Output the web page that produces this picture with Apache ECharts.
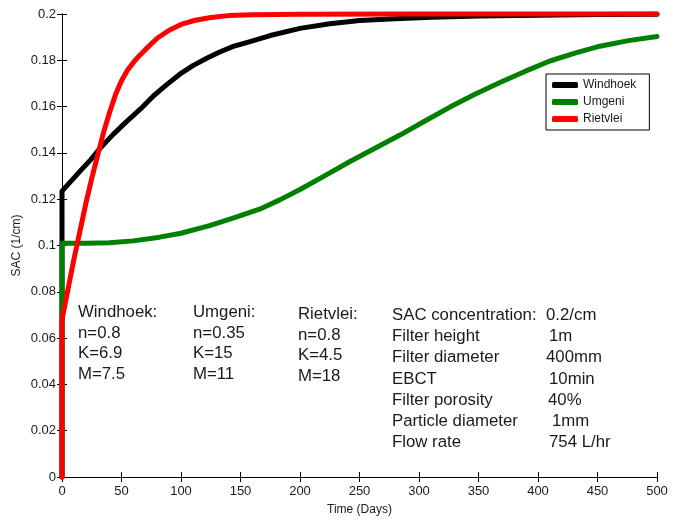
<!DOCTYPE html>
<html>
<head>
<meta charset="utf-8">
<script src="https://cdn.jsdelivr.net/npm/echarts@6/dist/echarts.min.js"></script>
<style>
html,body{margin:0;padding:0;background:#fff;}
#chart{width:678px;height:521px;}
</style>
</head>
<body>
<div id="chart"></div>
<script>
// ---- data ----
const seriesNames = ['Windhoek', 'Umgeni', 'Rietvlei'];
const windhoekX = [0, 0, 8, 15, 24, 32, 43, 54, 66, 77, 88, 99, 110, 122, 133, 144, 158, 175, 200, 225, 250, 280, 310, 350, 400, 450, 500];
const windhoekY = [0, 0.1235, 0.128, 0.132, 0.137, 0.142, 0.148, 0.1534, 0.159, 0.1647, 0.1695, 0.174, 0.1777, 0.181, 0.1837, 0.186, 0.1881, 0.1907, 0.1938, 0.1958, 0.1972, 0.198, 0.1986, 0.1991, 0.1995, 0.1998, 0.1999];
const umgeniX = [0, 0, 20, 40, 60, 82, 100, 124, 145, 166, 183, 200, 221, 242, 263, 284, 305, 326, 347, 368, 389, 410, 431, 452, 476, 500];
const umgeniY = [0, 0.101, 0.101, 0.1012, 0.102, 0.1036, 0.1053, 0.1086, 0.112, 0.1157, 0.1197, 0.1242, 0.1302, 0.1363, 0.142, 0.1477, 0.1538, 0.1598, 0.1653, 0.1704, 0.1752, 0.1797, 0.1831, 0.1861, 0.1885, 0.1903];
const rietvleiX = [0, 0, 5, 10, 15, 20, 25, 30, 35, 40, 45, 50, 55, 60, 65, 70, 80, 90, 100, 112, 125, 140, 160, 200, 300, 500];
const rietvleiY = [0, 0.068, 0.081, 0.094, 0.106, 0.118, 0.129, 0.139, 0.149, 0.1575, 0.1652, 0.1712, 0.1757, 0.1791, 0.182, 0.1846, 0.1895, 0.193, 0.1955, 0.1973, 0.1985, 0.1993, 0.1997, 0.1999, 0.2, 0.2];
const seriesColors = ['#000000', '#008000', '#ff0000'];

const xTickLabels = ['0', '50', '100', '150', '200', '250', '300', '350', '400', '450', '500'];
const yTickLabels = ['0', '0.02', '0.04', '0.06', '0.08', '0.1', '0.12', '0.14', '0.16', '0.18', '0.2'];
const xAxisName = 'Time (Days)';
const yAxisName = 'SAC (1/cm)';

const windhoekNote = ['Windhoek:', 'n=0.8', 'K=6.9', 'M=7.5'];
const umgeniNote = ['Umgeni:', 'n=0.35', 'K=15', 'M=11'];
const rietvleiNote = ['Rietvlei:', 'n=0.8', 'K=4.5', 'M=18'];
const paramNames = ['SAC concentration:', 'Filter height', 'Filter diameter', 'EBCT', 'Filter porosity', 'Particle diameter', 'Flow rate'];
const paramValues = ['0.2/cm', '1m', '400mm', '10min', '40%', '1mm', '754 L/hr'];

// ---- build ----
const FONT = '"Liberation Sans", Arial, sans-serif';
const NOTE_FONT = '16.8px ' + FONT;
function pairs(xs, ys){ return xs.map((x,i)=>[x, ys[i]]); }
const allData = [pairs(windhoekX, windhoekY), pairs(umgeniX, umgeniY), pairs(rietvleiX, rietvleiY)];

const series = seriesNames.map((n,i)=>({
  name: n, type: 'line', data: allData[i], showSymbol: false, symbol: 'none',
  clip: false, lineStyle: {color: seriesColors[i], width: 5, join: 'round', cap: 'round'},
  itemStyle: {color: seriesColors[i]}, animation: false, z: 2 + i
}));

const graphics = [];
function addBlock(lines, xs, ys){
  lines.forEach((t,i)=>graphics.push({type:'text', x:(Array.isArray(xs)?xs[i]:xs), y:ys[i], z:10,
    style:{text:t, font:NOTE_FONT, fill:'#1a1a1a', verticalAlign:'middle', align:'left'}}));
}
addBlock(windhoekNote, 78, [312, 333, 353.5, 374]);
addBlock(umgeniNote, 193, [312, 333, 353.5, 374]);
addBlock(rietvleiNote, 298, [314, 335, 355.5, 376]);
const paramYs = [315, 336, 357.5, 379, 400, 421, 442];
addBlock(paramNames, 392, paramYs);
addBlock(paramValues, [546, 549, 546, 549, 548, 552, 549], paramYs);

const axisLine = {show:true, lineStyle:{color:'#000', width:1}};
const option = {
  animation: false,
  backgroundColor: '#fff',
  grid: {left: 62, right: 21, top: 14, bottom: 38},
  legend: {
    data: seriesNames, orient: 'vertical', left: 546, top: 74,
    backgroundColor: '#fff', borderColor: '#000', borderWidth: 1, borderRadius: 0,
    padding: [5, 13, 5, 6], itemGap: 5, itemWidth: 26, itemHeight: 6, icon: 'roundRect',
    textStyle: {fontFamily: FONT, fontSize: 12, color: '#1a1a1a', lineHeight: 12}
  },
  xAxis: [{
    type: 'value', min: 0, max: 500, interval: 50, position: 'bottom',
    name: xAxisName, nameLocation: 'middle', nameGap: 27,
    nameTextStyle: {fontFamily: FONT, fontSize: 12, color: '#1a1a1a'},
    axisLine: axisLine, axisTick: {show:true, inside:true, length:5, lineStyle:{color:'#000'}},
    axisLabel: {fontFamily: FONT, fontSize: 13, color: '#1a1a1a', margin: 8,
      formatter: (v)=>xTickLabels[Math.round(v/50)]},
    splitLine: {show:false}
  },{
    type: 'value', min: 0, max: 500, interval: 50, position: 'top',
    axisLine: axisLine, axisTick: {show:true, inside:true, length:5, lineStyle:{color:'#000'}},
    axisLabel: {show:false}, splitLine: {show:false}
  }],
  yAxis: [{
    type: 'value', min: 0, max: 0.2, interval: 0.02, position: 'left',
    name: yAxisName, nameLocation: 'middle', nameGap: 39, nameRotate: 90, nameMoveOverlap: false,
    nameTextStyle: {fontFamily: FONT, fontSize: 12, color: '#1a1a1a'},
    axisLine: axisLine, axisTick: {show:true, inside:true, length:5, lineStyle:{color:'#000'}},
    axisLabel: {fontFamily: FONT, fontSize: 13, color: '#1a1a1a', margin: 6,
      formatter: (v)=>yTickLabels[Math.round(v/0.02)]},
    splitLine: {show:false}
  },{
    type: 'value', min: 0, max: 0.2, interval: 0.02, position: 'right',
    axisLine: axisLine, axisTick: {show:true, inside:true, length:5, lineStyle:{color:'#000'}},
    axisLabel: {show:false}, splitLine: {show:false}
  }],
  series: series,
  graphic: graphics
};
const chart = echarts.init(document.getElementById('chart'), null, {renderer:'canvas'});
chart.setOption(option);
</script>
</body>
</html>
